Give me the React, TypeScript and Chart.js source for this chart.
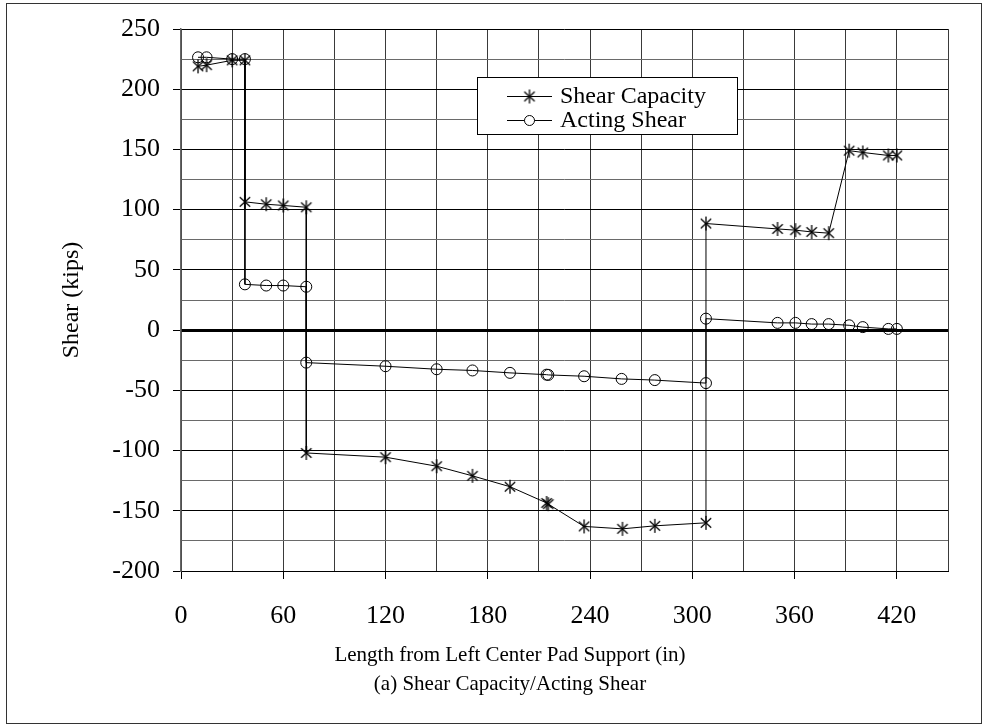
import React, { useEffect, useRef } from 'react';
import { Chart, registerables } from 'chart.js';

Chart.register(...registerables);

// ---- Data ----
const seriesNames = ['Shear Capacity', 'Acting Shear'];

const capacityX = [10, 15, 30, 37.5, 37.5, 50, 60, 73.5, 73.5, 120, 150, 171, 193, 214.5, 215.5, 236.5, 259, 278, 308, 308, 350, 360.5, 370, 380, 392, 400, 415, 420];
const capacityY = [219, 220, 224, 224, 106.5, 104.5, 103.5, 102, -102, -105.5, -113, -121, -130, -143.5, -144.5, -163, -165, -162.5, -160, 88.5, 84, 83, 81.5, 80.5, 149, 147.5, 145, 145];

const actingX = [10, 15, 30, 37.5, 37.5, 50, 60, 73.5, 73.5, 120, 150, 171, 193, 214.5, 215.5, 236.5, 258.5, 278, 308, 308, 350, 360.5, 370, 380, 392, 400, 415, 420];
const actingY = [226.5, 226.5, 225, 225, 38, 37, 37, 36, -27, -30, -32.5, -33.5, -35.5, -37, -37.2, -38.3, -40.5, -41.5, -44, 9.5, 6, 6, 5, 5, 4, 2.5, 1, 1];

const xMin = 0;
const xMax = 450;
const xGridStep = 30;
const xLabelStep = 60;
const yMin = -200;
const yMax = 250;
const yGridStep = 25;
const yLabelStep = 50;

const xTitle = 'Length from Left Center Pad Support (in)';
const yTitle = 'Shear (kips)';
const subTitle = '(a) Shear Capacity/Acting Shear';

const FONT = '"Liberation Serif", "Times New Roman", Times, serif';

function makeAsterisk(size: number): HTMLCanvasElement {
  const c = document.createElement('canvas');
  c.width = size;
  c.height = size;
  const g = c.getContext('2d')!;
  g.strokeStyle = '#000';
  g.lineWidth = 1.3;
  const m = size / 2;
  const r = size / 2 - 1;
  for (const a of [90, 42, -42]) {
    const dx = r * Math.cos((a * Math.PI) / 180);
    const dy = r * Math.sin((a * Math.PI) / 180);
    g.beginPath();
    g.moveTo(m - dx, m - dy);
    g.lineTo(m + dx, m + dy);
    g.stroke();
  }
  return c;
}

function drawCircle(g: CanvasRenderingContext2D, x: number, y: number, r: number, fill: string) {
  g.beginPath();
  g.arc(x, y, r, 0, Math.PI * 2);
  g.fillStyle = fill;
  g.fill();
  g.strokeStyle = '#000';
  g.lineWidth = 1;
  g.stroke();
}

export default function App() {
  const ref = useRef<HTMLCanvasElement | null>(null);

  useEffect(() => {
    if (!ref.current) return;
    const asterisk = makeAsterisk(16);

    const textPlugin = {
      id: 'customText',
      afterDraw(chart: any) {
        const g: CanvasRenderingContext2D = chart.ctx;
        g.save();
        g.fillStyle = '#000';
        g.textAlign = 'center';
        g.textBaseline = 'middle';
        g.font = `21px ${FONT}`;
        g.fillText(xTitle, 510, 655);
        g.fillText(subTitle, 510, 684);
        g.save();
        g.translate(72, 300);
        g.rotate(-Math.PI / 2);
        g.font = `24px ${FONT}`;
        g.fillText(yTitle, 0, 0);
        g.restore();

        // legend box
        const lx = 477, ly = 77, lw = 260, lh = 57;
        g.fillStyle = '#fff';
        g.fillRect(lx, ly, lw, lh);
        g.strokeStyle = '#000';
        g.lineWidth = 1;
        g.strokeRect(lx + 0.5, ly + 0.5, lw, lh);
        const rows = [ly + 19, ly + 43];
        rows.forEach((ry, i) => {
          g.beginPath();
          g.moveTo(507, ry + 0.5);
          g.lineTo(552, ry + 0.5);
          g.strokeStyle = '#000';
          g.lineWidth = 1;
          g.stroke();
          if (i === 0) {
            g.drawImage(asterisk, 529.5 - 8, ry + 0.5 - 8);
          } else {
            drawCircle(g, 529.5, ry + 0.5, 5, '#fff');
          }
          g.fillStyle = '#000';
          g.font = `24px ${FONT}`;
          g.textAlign = 'left';
          g.textBaseline = 'middle';
          g.fillText(seriesNames[i], 560, ry + 1);
        });
        g.restore();
      },
    };

    const chart = new Chart(ref.current, {
      type: 'scatter',
      data: {
        datasets: [
          {
            label: seriesNames[0],
            data: capacityX.map((x, i) => ({ x, y: capacityY[i] })),
            showLine: true,
            borderColor: '#000',
            borderWidth: 1,
            pointStyle: asterisk as any,
            pointRadius: 8,
            tension: 0,
          },
          {
            label: seriesNames[1],
            data: actingX.map((x, i) => ({ x, y: actingY[i] })),
            showLine: true,
            borderColor: '#000',
            borderWidth: 1,
            pointStyle: 'circle',
            pointRadius: 5.5,
            pointBorderColor: '#000',
            pointBackgroundColor: 'rgba(0,0,0,0)',
            pointBorderWidth: 1,
            tension: 0,
          },
        ],
      },
      options: {
        animation: false,
        responsive: false,
        devicePixelRatio: 1,
        layout: { padding: { left: 0, right: 37, top: 29, bottom: 0 }, autoPadding: false },
        plugins: {
          legend: { display: false },
          tooltip: { enabled: false },
          title: { display: false },
        },
        scales: {
          x: {
            type: 'linear',
            min: xMin,
            max: xMax,
            afterFit: (s: any) => {
              s.height = 156;
            },
            ticks: {
              stepSize: xGridStep,
              autoSkip: false,
              maxRotation: 0,
              padding: 22,
              color: '#000',
              font: { family: FONT, size: 26 },
              callback: (v: any) => (Number(v) % xLabelStep === 0 ? String(v) : ''),
            },
            grid: {
              color: '#3a3a3a',
              lineWidth: 1,
              drawTicks: true,
              tickLength: 8,
              tickWidth: 1,
              tickColor: (c: any) => (c.tick && c.tick.value % xLabelStep === 0 ? '#000' : 'rgba(0,0,0,0)'),
            },
            border: { display: true, color: '#000', width: 1 },
          },
          y: {
            type: 'linear',
            min: yMin,
            max: yMax,
            afterFit: (s: any) => {
              s.width = 181;
            },
            ticks: {
              stepSize: yGridStep,
              autoSkip: false,
              padding: 13,
              color: '#000',
              font: { family: FONT, size: 26 },
              callback: (v: any) => (Number(v) % yLabelStep === 0 ? String(v) : ''),
            },
            grid: {
              color: (c: any) => {
                const v = c.tick ? c.tick.value : 1;
                return v % yLabelStep === 0 ? '#000' : '#6a6a6a';
              },
              lineWidth: (c: any) => (c.tick && c.tick.value === 0 ? 3 : 1),
              drawTicks: true,
              tickLength: 8,
              tickWidth: 1,
              tickColor: (c: any) => (c.tick && c.tick.value % yLabelStep === 0 ? '#000' : 'rgba(0,0,0,0)'),
            },
            border: { display: true, color: '#666', width: 1.5 },
          },
        },
      },
      plugins: [textPlugin],
    });
    return () => chart.destroy();
  }, []);

  return (
    <div style={{ position: 'fixed', left: 0, top: 0, width: 985, height: 727, background: '#fff' }}>
      <div
        style={{
          position: 'absolute',
          left: 6,
          top: 3,
          width: 976,
          height: 721,
          border: '1.5px solid #333',
          boxSizing: 'border-box',
        }}
      />
      <canvas ref={ref} width={985} height={727} style={{ position: 'absolute', left: 0, top: 0 }} />
    </div>
  );
}
